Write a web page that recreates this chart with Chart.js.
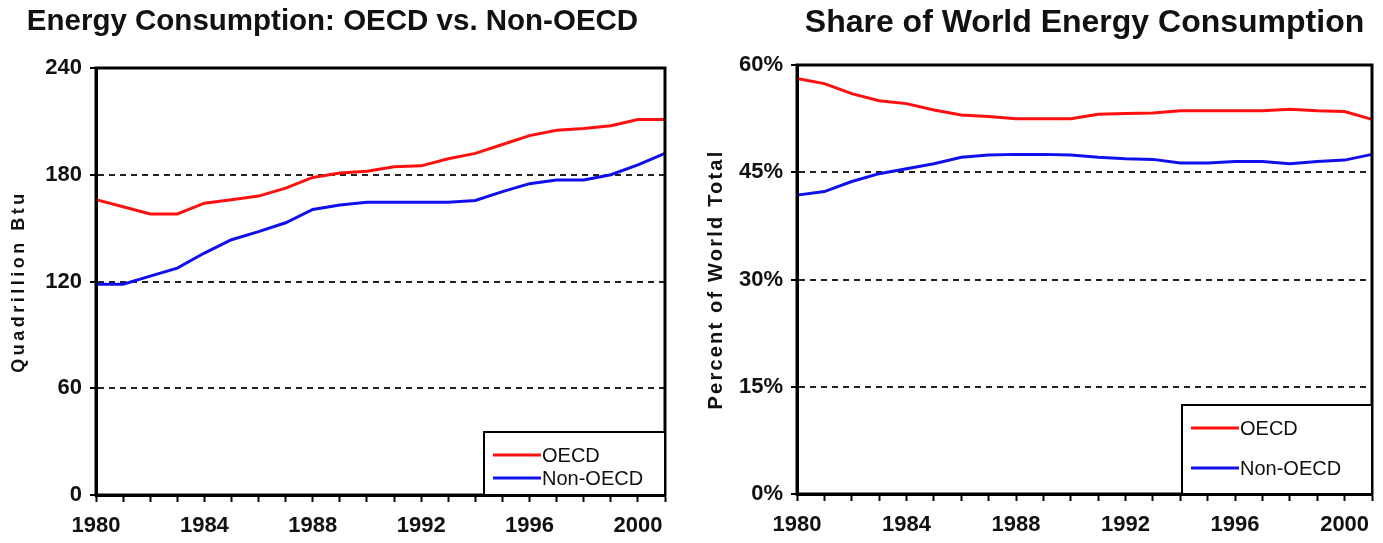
<!DOCTYPE html>
<html>
<head>
<meta charset="utf-8">
<script src="https://cdn.jsdelivr.net/npm/chart.js@4"></script>
<style>
  html, body { margin: 0; padding: 0; background: #fff; }
  .box { position: absolute; top: 0; height: 543px; }
  #left { left: 0; width: 690px; }
  #right { left: 690px; width: 693px; }
</style>
</head>
<body>
<div class="box" id="left"><canvas id="btu-chart"></canvas></div>
<div class="box" id="right"><canvas id="share-chart"></canvas></div>
<script>
const years = [1980, 1981, 1982, 1983, 1984, 1985, 1986, 1987, 1988, 1989, 1990,
               1991, 1992, 1993, 1994, 1995, 1996, 1997, 1998, 1999, 2000, 2001];
const seriesNames = ['OECD', 'Non-OECD'];

// quadrillion Btu
const oecdBtu = [166, 162, 158, 158, 164, 166, 168, 172.5, 178.5, 181, 182,
                 184.5, 185, 189, 192, 197, 202, 205, 206, 207.5, 211, 211];
const nonOecdBtu = [118.5, 118.5, 123, 127.5, 136, 143.5, 148, 153, 160.5, 163, 164.5,
                    164.5, 164.5, 164.5, 165.5, 170.5, 175, 177, 177, 180, 185.5, 192];

// percent of world total
const oecdShare = [58.1, 57.4, 56.0, 55.0, 54.6, 53.7, 53.0, 52.8, 52.5, 52.5, 52.5,
                   53.1, 53.2, 53.3, 53.6, 53.6, 53.6, 53.6, 53.8, 53.6, 53.5, 52.4];
const nonOecdShare = [41.8, 42.3, 43.7, 44.8, 45.5, 46.2, 47.1, 47.4, 47.5, 47.5, 47.4,
                      47.1, 46.9, 46.8, 46.3, 46.3, 46.5, 46.5, 46.2, 46.5, 46.7, 47.5];

const RED = '#ff1010';
const BLUE = '#1010ee';
const FONT = "'Liberation Sans', Arial, sans-serif";

// black frame round the plot
const framePlugin = {
  id: 'frame',
  afterDatasetsDraw(chart) {
    const a = chart.chartArea, ctx = chart.ctx;
    ctx.save();
    ctx.strokeStyle = '#000';
    ctx.lineWidth = 3;
    ctx.strokeRect(a.left, a.top, a.right - a.left, a.bottom - a.top);
    ctx.restore();
  }
};

// boxed legend sitting in the lower right corner of the plot
const boxLegend = {
  id: 'boxLegend',
  afterDraw(chart, args, opts) {
    const a = chart.chartArea, ctx = chart.ctx;
    const x = a.right - opts.width, y = a.bottom - opts.height;
    ctx.save();
    ctx.fillStyle = '#fff';
    ctx.fillRect(x, y, opts.width, opts.height);
    ctx.strokeStyle = '#000';
    ctx.lineWidth = 2;
    ctx.strokeRect(x, y, opts.width, opts.height);
    ctx.font = '20px ' + FONT;
    ctx.textBaseline = 'middle';
    chart.data.datasets.forEach((ds, i) => {
      const ry = y + opts.rows[i];
      ctx.strokeStyle = ds.borderColor;
      ctx.lineWidth = 3;
      ctx.beginPath();
      ctx.moveTo(x + 9, ry);
      ctx.lineTo(x + 57, ry);
      ctx.stroke();
      ctx.fillStyle = '#111';
      ctx.fillText(ds.label, x + 58, ry + 1);
    });
    ctx.restore();
  }
};

// spread out the letters of the y axis title
const spacedTitle = {
  id: 'spacedTitle',
  beforeDraw(chart, args, opts) {
    const s = chart.scales.y;
    if (s._spaced) return;
    const orig = s.drawTitle.bind(s);
    s.drawTitle = function () {
      chart.ctx.save();
      chart.ctx.letterSpacing = opts.spacing + 'px';
      orig();
      chart.ctx.restore();
    };
    s._spaced = true;
  }
};

function makeChart(canvasId, cfg) {
  const yearTick = function (val, idx) {
    return years[idx] % 4 === 0 ? String(years[idx]) : '';
  };
  return new Chart(document.getElementById(canvasId), {
    type: 'line',
    data: {
      labels: years,
      datasets: [
        { label: seriesNames[0], data: cfg.a, borderColor: RED, backgroundColor: RED },
        { label: seriesNames[1], data: cfg.b, borderColor: BLUE, backgroundColor: BLUE }
      ]
    },
    options: {
      responsive: true,
      maintainAspectRatio: false,
      animation: false,
      elements: {
        line: { borderWidth: 3, tension: 0 },
        point: { radius: 0 }
      },
      layout: { padding: { left: 0, right: cfg.padRight, top: 0, bottom: 0 } },
      plugins: {
        legend: { display: false },
        tooltip: { enabled: false },
        title: {
          display: true,
          text: cfg.title,
          color: '#111',
          fullSize: cfg.titleFull,
          font: { family: FONT, size: cfg.titleSize, weight: 'bold', lineHeight: 1.2 },
          padding: { top: 4, bottom: cfg.top - 4 - cfg.titleSize * 1.2 }
        },
        boxLegend: cfg.legend,
        spacedTitle: { spacing: cfg.ySpacing }
      },
      scales: {
        x: {
          type: 'category',
          offset: false,
          afterFit: s => { s.height = 543 - cfg.bottom; },
          grid: { drawOnChartArea: false, tickLength: 7, tickColor: '#000', tickWidth: 2 },
          border: { display: true, color: '#000', width: 3 },
          ticks: {
            autoSkip: false, maxRotation: 0, padding: 11, color: '#111',
            font: { family: FONT, size: 22, weight: 'bold' },
            callback: yearTick
          }
        },
        y: {
          min: 0,
          max: cfg.yMax,
          afterFit: s => { s.width = cfg.left; },
          grid: {
            color: ctx => (ctx.tick && (ctx.tick.value === 0 || ctx.tick.value === cfg.yMax)) ? 'rgba(0,0,0,0)' : '#222',
            lineWidth: 2,
            tickLength: 6,
            tickColor: '#000',
            tickWidth: 2
          },
          border: { display: true, color: '#000', width: 3, dash: [6, 5] },
          ticks: {
            stepSize: cfg.yStep, padding: 8, color: '#111',
            font: { family: FONT, size: 22, weight: 'bold' },
            callback: cfg.yFmt
          },
          title: {
            display: true,
            text: cfg.yTitle,
            color: '#111',
            font: { family: FONT, size: cfg.yTitleSize, weight: 'bold' },
            padding: { top: cfg.yTitlePad, bottom: 0 }
          }
        }
      }
    },
    plugins: [framePlugin, boxLegend, spacedTitle]
  });
}

makeChart('btu-chart', {
  a: oecdBtu, b: nonOecdBtu,
  title: 'Energy Consumption: OECD vs. Non-OECD', titleSize: 29.5, titleFull: true,
  top: 68, bottom: 495, left: 96, padRight: 25,
  yMax: 240, yStep: 60, yFmt: v => String(v),
  yTitle: 'Quadrillion Btu', yTitleSize: 18, yTitlePad: 8, ySpacing: 3.5,
  legend: { width: 181, height: 63, rows: [23, 46] }
});

makeChart('share-chart', {
  a: oecdShare, b: nonOecdShare,
  title: 'Share of World Energy Consumption', titleSize: 32, titleFull: false,
  top: 65, bottom: 494, left: 107, padRight: 7,
  yMax: 60, yStep: 15, yFmt: v => v + '%',
  yTitle: 'Percent of World Total', yTitleSize: 20, yTitlePad: 14, ySpacing: 2.2,
  legend: { width: 190, height: 89, rows: [23, 63] }
});
</script>
</body>
</html>
